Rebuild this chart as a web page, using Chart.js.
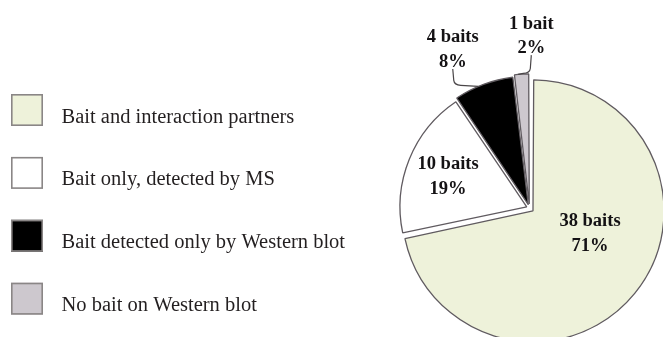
<!DOCTYPE html>
<html>
<head>
<meta charset="utf-8">
<script src="https://cdn.jsdelivr.net/npm/chart.js@4.4.1/dist/chart.umd.min.js"></script>
<style>
  html, body { margin: 0; padding: 0; background: #fff; overflow: hidden; }
  #wrap { position: relative; width: 663px; height: 337px; }
</style>
</head>
<body>
<div id="wrap"><canvas id="pie" width="663" height="337"></canvas></div>
<script>
// bait outcome groups
const categories = [
    "Bait and interaction partners",
    "Bait only, detected by MS",
    "Bait detected only by Western blot",
    "No bait on Western blot"
];
const baitCounts = [38, 10, 4, 1];
const percentLabels = [71, 19, 8, 2];
const sliceColors = ["#eef2da", "#ffffff", "#000000", "#cdc8ce"];

const SERIF = "'Liberation Serif', 'Times New Roman', serif";

// ─── legend on the left: square swatch + label ──────────────────
const sideLegend = {
    id: "sideLegend",
    afterDraw(chart, args, opts) {
        const { ctx } = chart;
        const ds = chart.data.datasets[0];
        ctx.save();
        chart.data.labels.forEach((lab, i) => {
            const top = opts.top + i * opts.step;
            ctx.fillStyle = ds.backgroundColor[i];
            ctx.fillRect(opts.left, top, opts.box, opts.box);
            ctx.strokeStyle = opts.boxBorder;
            ctx.lineWidth = 1.6;
            ctx.strokeRect(opts.left + 0.8, top + 0.8, opts.box - 1.6, opts.box - 1.6);

            ctx.fillStyle = opts.color;
            ctx.font = opts.font;
            ctx.textAlign = "left";
            ctx.textBaseline = "alphabetic";
            ctx.fillText(lab, opts.textX, top + opts.baseline);
        });
        ctx.restore();
    },
};

// ─── "n baits / p%" labels, with leader lines for the thin slices ──
const sliceLabels = {
    id: "sliceLabels",
    afterDatasetsDraw(chart, args, opts) {
        const { ctx } = chart;
        const arcs = chart.getDatasetMeta(0).data;
        const values = chart.data.datasets[0].data;
        const deg = Math.PI / 180;
        ctx.save();
        ctx.font = opts.font;
        ctx.textAlign = "center";
        ctx.textBaseline = "middle";
        ctx.fillStyle = opts.color;
        arcs.forEach((arc, i) => {
            const mid = (arc.startAngle + arc.endAngle) / 2;
            const [shift, frac] = opts.placement[i];
            const a = mid + shift * deg;
            const cx = arc.x + Math.cos(a) * frac * arc.outerRadius;
            const cy = arc.y + Math.sin(a) * frac * arc.outerRadius;
            const n = values[i];
            ctx.fillText(n + (n === 1 ? " bait" : " baits"), cx, cy - opts.lineGap / 2);
            ctx.fillText(percentLabels[i] + "%", cx, cy + opts.lineGap / 2);

            const lead = opts.leaders[i];
            if (lead == null) return;
            // end point sits on the exploded slice's rim
            const d = (arc.options.offset || 0) / 4;
            const circ = arc.endAngle - arc.startAngle;
            const r = arc.outerRadius + d * (1 - Math.sin(Math.min(Math.PI, circ)));
            const t = mid + lead * deg;
            const ex = arc.x + Math.cos(mid) * d + Math.cos(t) * r;
            const ey = arc.y + Math.sin(mid) * d + Math.sin(t) * r;
            const sx = cx;
            const sy = cy + opts.lineGap / 2 + 7;
            const dir = ex > sx ? 1 : -1;
            ctx.beginPath();
            ctx.moveTo(sx, sy);
            ctx.lineTo(sx + dir * 1, ey - 6);
            ctx.quadraticCurveTo(sx + dir * 1.5, ey - 1.5, sx + dir * 8, ey - 1);
            ctx.lineTo(ex, ey);
            ctx.strokeStyle = opts.lineColor;
            ctx.lineWidth = 1.2;
            ctx.stroke();
        });
        ctx.restore();
    },
};

new Chart(document.getElementById("pie"), {
    type: "pie",
    data: {
        labels: categories,
        datasets: [{
            data: baitCounts,
            backgroundColor: sliceColors,
            borderColor: "#605b60",
            borderWidth: 1.3,
            offset: [18, 12, 14, 16],
        }],
    },
    options: {
        responsive: false,
        animation: false,
        radius: 126.5,
        layout: { padding: { left: 399, right: 3, top: 79, bottom: 0 } },
        plugins: {
            legend: { display: false },
            tooltip: { enabled: false },
            sideLegend: {
                left: 11, top: 94, step: 62.9, box: 32,
                textX: 61.5, baseline: 28.5,
                boxBorder: "#8a8686",
                color: "#231f20",
                font: "20.5px " + SERIF,
            },
            sliceLabels: {
                font: "bold 18.5px " + SERIF,
                color: "#141214",
                lineColor: "#4a4648",
                lineGap: 24.4,
                // [angle shift from slice middle in degrees, distance in radii]
                placement: [[-16, 0.52], [-1, 0.69], [-5.5, 1.39], [4, 1.36]],
                leaders: [null, null, -2.5, -1.5],
            },
        },
    },
    plugins: [sideLegend, sliceLabels],
});
</script>
</body>
</html>
